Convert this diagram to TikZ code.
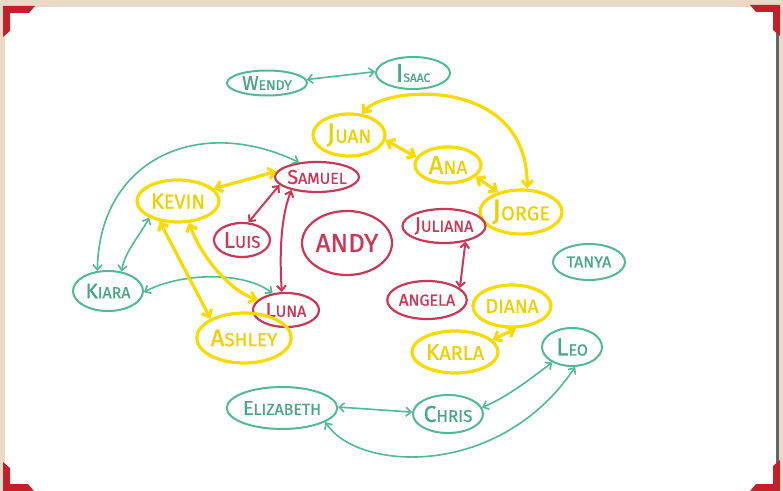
\documentclass[tikz,border=0pt]{standalone}
\usepackage{fontspec}
\usetikzlibrary{shapes.geometric,arrows.meta}
\newfontfamily\inkfont[FakeBold=0.8]{Fira Sans}
\definecolor{paperbg}{HTML}{EAD9C7}
\definecolor{cornerred}{HTML}{C4202B}
\definecolor{tealink}{HTML}{52B895}
\definecolor{yellowink}{HTML}{F8DA00}
\definecolor{redink}{HTML}{C93957}
% a name in hand-lettered small caps: first letter, then the rest
\newcommand\nametext[4]{{\fontsize{#1}{#1}\selectfont #3}{\fontsize{#2}{#2}\selectfont #4}}
\tikzset{
  person/.style={ellipse, inner sep=0pt, font=\inkfont},
  tealp/.style={person, draw=tealink, line width=2bp, text=tealink!90!black},
  yellowp/.style={person, draw=yellowink, line width=3.2bp, text=yellowink!95!black},
  redp/.style={person, draw=redink, line width=2.2bp, text=redink},
  tealln/.style={draw=tealink, line width=1.6bp, {Straight Barb[length=5bp,width=9bp]}-{Straight Barb[length=5bp,width=9bp]}},
  yellowln/.style={draw=yellowink, line width=3.2bp, {Straight Barb[length=6bp,width=11bp]}-{Straight Barb[length=6bp,width=11bp]}},
  redln/.style={draw=redink, line width=2bp, {Straight Barb[length=5bp,width=9bp]}-{Straight Barb[length=5bp,width=9bp]}}
}
\begin{document}
\begin{tikzpicture}[x=1bp, y=-1bp]
% sheet of paper on a beige ground
\fill[paperbg] (0,0) rectangle (783,491);
\useasboundingbox (0,0) rectangle (783,491);
\fill[white] (5,7) rectangle (777,491);
\fill[black!60] (776,12) rectangle (779,491);
% red photo corners
\fill[cornerred] (3,6) -- (35,6) -- (29,13) -- (10,13) -- (10,31) -- (3,37) -- cycle;
\fill[cornerred] (750,5) -- (780,5) -- (780,36) -- (773,30) -- (773,12) -- (756,12) -- cycle;
\fill[cornerred] (3,462) -- (10,468) -- (10,484) -- (28,484) -- (34,491) -- (3,491) -- cycle;
\fill[cornerred] (780,460) -- (780,491) -- (750,491) -- (756,484) -- (773,484) -- (773,466) -- cycle;

% people
\node[tealp, minimum width=80bp, minimum height=25bp] (wendy) at (267,83) {\nametext{20}{14}{W}{ENDY}};
\node[tealp, minimum width=74bp, minimum height=32bp] (isaac) at (413,73) {\nametext{26}{12}{I}{SAAC}};
\node[yellowp, minimum width=72bp, minimum height=42bp] (juan) at (349,135) {\nametext{28}{19}{J}{UAN}};
\node[yellowp, minimum width=66bp, minimum height=36bp] (ana) at (448,165) {\nametext{26}{19}{A}{NA}};
\node[yellowp, minimum width=72bp, minimum height=44bp] (jorge) at (521,212) {\nametext{30}{20}{J}{ORGE}};
\node[redp, minimum width=80bp, minimum height=30bp] (samuel) at (317,177) {\nametext{20}{16}{S}{AMUEL}};
\node[yellowp, minimum width=82bp, minimum height=42bp] (kevin) at (178,201) {\nametext{22}{20}{K}{EVIN}};
\node[redp, minimum width=56bp, minimum height=34bp] (luis) at (242,240) {\nametext{23}{17}{L}{UIS}};
\node[redp, minimum width=90bp, minimum height=64bp] (andy) at (347,243) {\nametext{26}{26}{A}{NDY}};
\node[tealp, minimum width=70bp, minimum height=40bp] (kiara) at (108,291) {\nametext{21}{16}{K}{IARA}};
\node[redp, minimum width=66bp, minimum height=34bp] (luna) at (286,310) {\nametext{20}{16}{L}{UNA}};
\node[yellowp, minimum width=92bp, minimum height=50bp] (ashley) at (244,338) {\nametext{24}{19}{A}{SHLEY}};
\node[redp, minimum width=78bp, minimum height=34bp] (juliana) at (444,226) {\nametext{21}{16}{J}{ULIANA}};
\node[redp, minimum width=76bp, minimum height=38bp] (angela) at (427,300) {\nametext{17}{16}{A}{NGELA}};
\node[tealp, minimum width=72bp, minimum height=36bp] (tanya) at (589,262) {\nametext{16}{16}{T}{ANYA}};
\node[yellowp, minimum width=78bp, minimum height=42bp] (diana) at (512,306) {\nametext{20}{19}{D}{IANA}};
\node[yellowp, minimum width=86bp, minimum height=42bp] (karla) at (455,352) {\nametext{23}{20}{K}{ARLA}};
\node[tealp, minimum width=60bp, minimum height=38bp] (leo) at (572,347) {\nametext{25}{16}{L}{EO}};
\node[tealp, minimum width=100bp, minimum height=42bp] (elizabeth) at (282,408) {\nametext{20}{16}{E}{LIZABETH}};
\node[tealp, minimum width=70bp, minimum height=38bp] (chris) at (448,414) {\nametext{23}{17}{C}{HRIS}};

% friendships
\draw[tealln] (wendy.5) -- (isaac.178);
\draw[tealln] (kiara.118) .. controls +(2,-112) and +(-100,-48) .. (samuel.141);
\draw[tealln] (kiara.55) .. controls +(3,-20) and +(-8,16) .. (kevin.210);
\draw[tealln] (kiara.358) .. controls +(37,-20) and +(-28,-22) .. (luna.129);
\draw[tealln] (elizabeth.1) -- (chris.177);
\draw[tealln] (chris.11) .. controls +(25,-10) and +(-20,15) .. (leo.218);
\draw[tealln] (elizabeth.342) .. controls +(33,50) and +(-75,112) .. (leo.279);

\draw[yellowln] (kevin.19) -- (samuel.172);
\draw[yellowln] (kevin.228) -- (ashley.150);
\draw[yellowln] (kevin.297) .. controls +(12,34) and +(-28,-9) .. (luna.160);
\draw[yellowln] (juan.352) -- (ana.166);
\draw[yellowln] (ana.337) -- (jorge.139);
\draw[yellowln] (juan.58) .. controls +(22,-28) and +(0,-114) .. (jorge.75);
\draw[yellowln] (karla.18) -- (diana.280);

\draw[redln] (samuel.192) -- (luis.70);
\draw[redln] (samuel.207) .. controls +(-12,30) and +(-2,-30) .. (luna.103);
\draw[redln] (juliana.324) -- (angela.20);
\end{tikzpicture}
\end{document}
